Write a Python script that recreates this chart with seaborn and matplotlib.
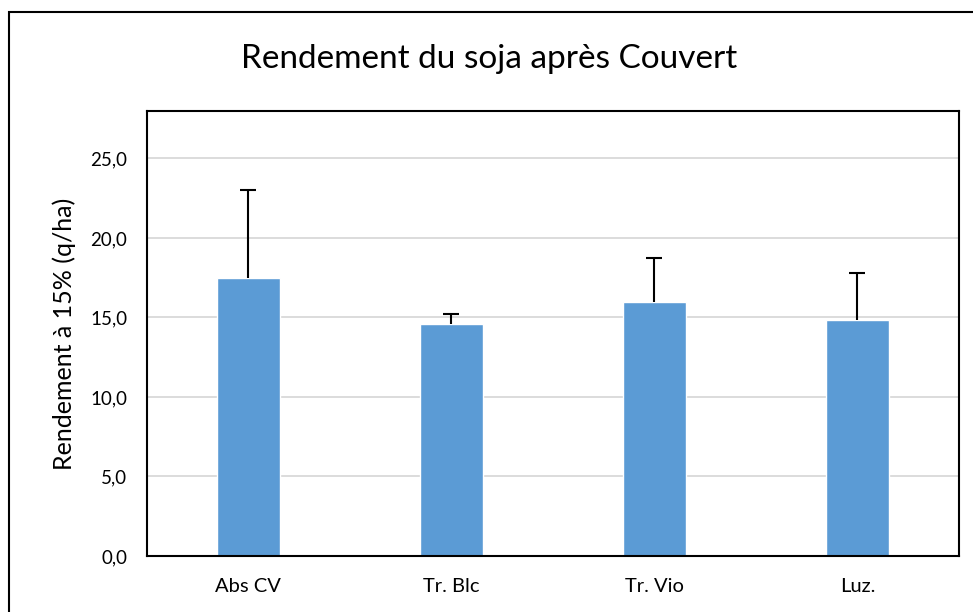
import numpy as np
import pandas as pd
import matplotlib.pyplot as plt
import seaborn as sns
from matplotlib.patches import Rectangle
from matplotlib.ticker import FuncFormatter

categories = ["Abs CV", "Tr. Blc", "Tr. Vio", "Luz."]
rendement = [17.5, 14.6, 15.95, 14.85]
ecart = [5.5, 0.65, 2.8, 2.95]

df = pd.DataFrame({"Couvert": categories, "Rendement": rendement})

sns.set_theme(style="white")
plt.rcParams['font.family'] = ['Lato', 'DejaVu Sans']

fig = plt.figure(figsize=(9.73, 6.12), dpi=100)
ax = fig.add_axes([0.151, 0.0915, 0.8345, 0.7275])

sns.barplot(data=df, x="Couvert", y="Rendement", color="#5B9BD5",
            width=0.31, saturation=1, errorbar=None, ax=ax, zorder=2)
x = np.arange(len(categories))
eb = ax.errorbar(x, rendement, yerr=[np.zeros(len(ecart)), ecart], fmt='none',
                 ecolor='black', elinewidth=1.5, capsize=6, capthick=1.5, zorder=3)
# only the upper cap, like Excel "plus" error bars
for cap in eb[1]:
    if np.allclose(cap.get_ydata(), rendement):
        cap.set_visible(False)

ax.set_ylim(0, 28)
ax.set_xlim(-0.5, len(categories) - 0.5)
ax.set_yticks(np.arange(0, 26, 5))
ax.yaxis.set_major_formatter(FuncFormatter(lambda v, p: f"{v:.1f}".replace('.', ',')))
ax.grid(axis='y', color='#D9D9D9', linewidth=1.3, zorder=0)
ax.set_axisbelow(True)
for s in ax.spines.values():
    s.set_color('black')
    s.set_linewidth(1.5)

ax.tick_params(axis='y', labelsize=13.5, length=0, colors='black', pad=14)
ax.tick_params(axis='x', labelsize=14.5, length=0, colors='black', pad=16)
ax.set_xlabel("")
ax.set_ylabel("Rendement à 15% (q/ha)", fontsize=18, color='black', labelpad=10)

fig.text(0.503, 0.903, "Rendement du soja après Couvert", fontsize=24,
         ha='center', va='center', color='black')

fig.patches.append(Rectangle((8.5 / 973, -0.1), 1.2, 1 - 12 / 612 + 0.1,
                             transform=fig.transFigure, fill=False,
                             edgecolor='black', linewidth=1.5))

fig.savefig("out.png", dpi=100, facecolor='white')
